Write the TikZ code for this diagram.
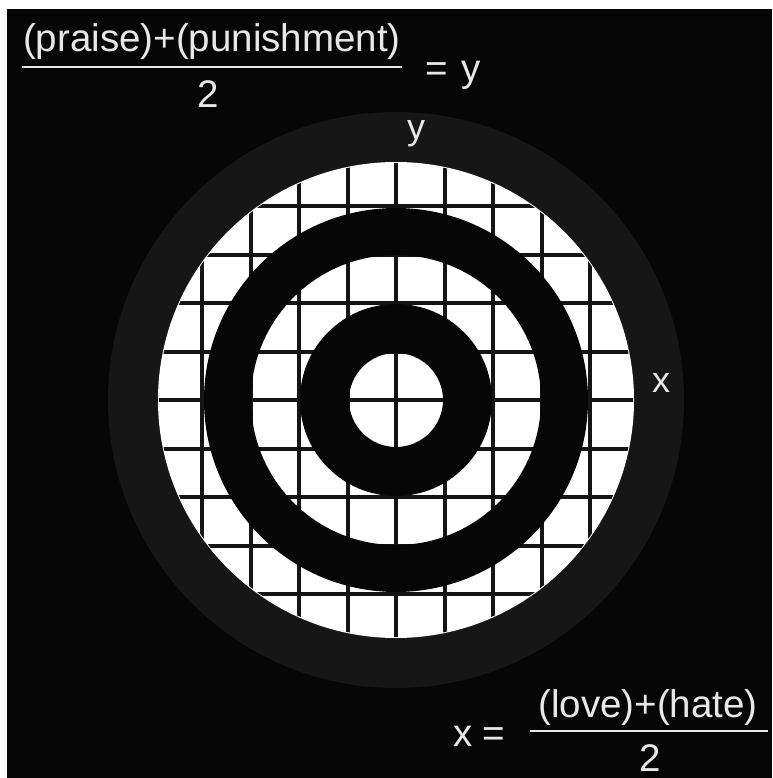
\documentclass[tikz,border=0pt]{standalone}
\usepackage{fontspec}
\setmainfont{Liberation Sans}
\usetikzlibrary{calc}
\definecolor{bgblack}{HTML}{060606}
\definecolor{discgrey}{HTML}{161616}
\definecolor{txtwhite}{HTML}{E8E8E8}
\definecolor{gridline}{HTML}{141414}
\begin{document}
\begin{tikzpicture}[x=1pt,y=-1pt,
  lbl/.style={text=txtwhite,inner sep=0pt,outer sep=0pt,font=\fontsize{38.5}{40}\selectfont},
  axislbl/.style={text=txtwhite,inner sep=0pt,outer sep=0pt,font=\fontsize{36}{38}\selectfont},
  fracbar/.style={draw=txtwhite,line width=2pt},
  gridstyle/.style={draw=gridline,line width=4pt},
  ringfill/.style={fill=bgblack,even odd rule}]
\useasboundingbox (0,0) rectangle (772,778);
\fill[white] (0,0) rectangle (772,778);
\fill[bgblack] (7,9) rectangle (772,778);
% target
\coordinate (c) at (396,400);
\fill[discgrey] (c) circle[radius=288];
\fill[white] (c) circle[radius=238];
\begin{scope}
  \clip (c) circle[radius=237];
  \foreach \k in {-5,...,5}{
    \draw[gridstyle] ($(c)+(\k*48.5,-240)$) -- ($(c)+(\k*48.5,240)$);
    \draw[gridstyle] ($(c)+(-240,\k*48.5)$) -- ($(c)+(240,\k*48.5)$);
  }
\end{scope}
\fill[ringfill] (c) circle[radius=192] (c) circle[radius=145];
\fill[ringfill] (c) circle[radius=96] (c) circle[radius=47];
% axis labels
\node[axislbl,anchor=base] (ylab) at (416,140) {y};
\node[axislbl,anchor=base] (xlab) at (661,392) {x};
% top formula
\node[lbl,anchor=base] (num1) at (212,52) {(praise)+(punishment)};
\draw[fracbar] (22,67) -- (402,67);
\node[lbl,anchor=base] (den1) at (208,108) {2};
\node[lbl,anchor=base west] (eq1) at (425,82) {=\kern14pt y};
% bottom formula
\node[lbl,anchor=base west] (eq2) at (453,746) {x =};
\node[lbl,anchor=base] (num2) at (648,717) {(love)+(hate)};
\draw[fracbar] (530,731) -- (768,731);
\node[lbl,anchor=base] (den2) at (650,771) {2};
\end{tikzpicture}
\end{document}
